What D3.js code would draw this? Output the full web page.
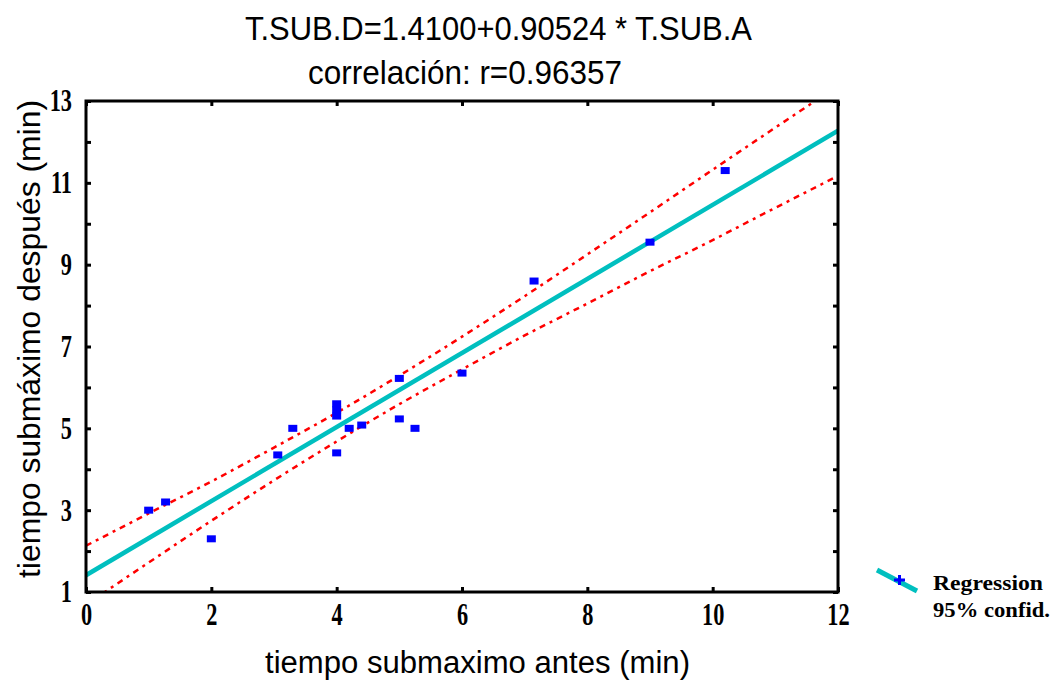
<!DOCTYPE html>
<html><head><meta charset="utf-8">
<script src="https://cdn.jsdelivr.net/npm/d3@7"></script>
<style>body{margin:0;background:#fff}</style>
</head><body>
<script>
// ---- data ----
const pointsX = [1, 1.27, 2, 3.06, 3.3, 4, 4, 4, 4, 4.2, 4.4, 5, 5.25, 5, 6, 7.15, 9, 10.2];
const pointsY = [3.0, 3.2, 2.3, 4.35, 5.0, 5.6, 5.45, 5.3, 4.4, 5.0, 5.08, 5.23, 5.0, 6.22, 6.35, 8.6, 9.55, 11.3];
const intercept = 1.41, slope = 0.90524;
const bandX = [0,1,2,3,4,5,6,7,8,9,10,11,12];
const upperBand = [2.13,2.92,3.70,4.53,5.38,6.29,7.24,8.23,9.25,10.28,11.32,12.35,13.37];
const lowerBand = [0.69,1.72,2.74,3.73,4.68,5.59,6.44,7.27,8.05,8.84,9.60,10.39,11.17];
const xTicks = [0,2,4,6,8,10,12];
const yTicks = [1,2,3,4,5,6,7,8,9,10,11,12,13];
const yLabels = [1,3,5,7,9,11,13];
const title1 = "T.SUB.D=1.4100+0.90524 * T.SUB.A";
const title2 = "correlación: r=0.96357";
const xTitle = "tiempo submaximo antes (min)";
const yTitle = "tiempo submáximo después (min)";
const legendLabels = ["Regression", "95% confid."];

const W = 1054, H = 684;
const svg = d3.select("body").append("svg").attr("width", W).attr("height", H);
const L = 86, R = 838, T = 101, B = 592;
const x = d3.scaleLinear().domain([0,12]).range([L,R]);
const y = d3.scaleLinear().domain([1,13]).range([B,T]);

const sans = "'Liberation Sans', Arial, sans-serif";
const serif = "'Liberation Serif', 'Times New Roman', serif";

// titles
svg.append("text").attr("x", 245).attr("y", 40).attr("textLength", 507).attr("lengthAdjust","spacingAndGlyphs")
  .style("font-family", sans).style("font-size","34px").text(title1);
svg.append("text").attr("x", 308).attr("y", 84).attr("textLength", 314).attr("lengthAdjust","spacingAndGlyphs")
  .style("font-family", sans).style("font-size","34px").text(title2);

// clip
svg.append("clipPath").attr("id","clip").append("rect").attr("x",L).attr("y",T).attr("width",R-L).attr("height",B-T);
const plot = svg.append("g").attr("clip-path","url(#clip)");

// confidence bands
const bandLine = d3.line().x((d,i)=>x(bandX[i])).y(d=>y(d)).curve(d3.curveMonotoneX);
[upperBand, lowerBand].forEach(b => {
  plot.append("path").attr("d", bandLine(b)).attr("fill","none").attr("stroke","#ff0000")
    .attr("stroke-width", 2.5).attr("stroke-dasharray","6,5,3,5");
});

// regression line
const regX = [0, 12];
plot.append("path").attr("d", d3.line().x(d=>x(d)).y(d=>y(intercept+slope*d))(regX))
  .attr("fill","none").attr("stroke","#00bfbf").attr("stroke-width",4.5);

// points
plot.selectAll("rect.pt").data(pointsX).enter().append("rect").attr("class","pt")
  .attr("x",(d)=>x(d)-4.5).attr("y",(d,i)=>y(pointsY[i])-3.5).attr("width",9).attr("height",7).attr("fill","#0000ff");

// frame
svg.append("rect").attr("x",L).attr("y",T).attr("width",R-L).attr("height",B-T)
  .attr("fill","none").attr("stroke","#000").attr("stroke-width",3);

// axes
const xb = svg.append("g").attr("transform",`translate(0,${B})`)
  .call(d3.axisBottom(x).tickValues(xTicks).tickSize(-5).tickPadding(11).tickFormat(d3.format("d")));
const xt = svg.append("g").attr("transform",`translate(0,${T})`)
  .call(d3.axisTop(x).tickValues(xTicks).tickSize(-5).tickFormat(""));
const yl = svg.append("g").attr("transform",`translate(${L},0)`)
  .call(d3.axisLeft(y).tickValues(yTicks).tickSize(-5).tickPadding(14)
  .tickFormat(d => yLabels.includes(d) ? d : ""));
const yr = svg.append("g").attr("transform",`translate(${R},0)`)
  .call(d3.axisRight(y).tickValues(yTicks).tickSize(-5).tickFormat(""));
[xb,xt,yl,yr].forEach(g => {
  g.select(".domain").remove();
  g.selectAll(".tick line").attr("stroke","#000").attr("stroke-width",3);
  g.selectAll("text").style("font-family", serif).style("font-size","31px").style("font-weight","bold").attr("fill","#000");
});
xb.selectAll("text").attr("dy","0.71em").attr("transform","scale(0.72,1)");
yl.selectAll("text").attr("x", -14/0.72).attr("transform","scale(0.72,1)");

// axis titles
svg.append("text").attr("x", 265).attr("y", 673).attr("textLength", 425).attr("lengthAdjust","spacingAndGlyphs")
  .style("font-family", sans).style("font-size","31px").text(xTitle);
svg.append("text").attr("transform","translate(40,578) rotate(-90)").attr("textLength", 478).attr("lengthAdjust","spacingAndGlyphs")
  .style("font-family", sans).style("font-size","31px").text(yTitle);

// legend
svg.append("line").attr("x1",877).attr("y1",570).attr("x2",917).attr("y2",591)
  .attr("stroke","#00bfbf").attr("stroke-width",5);
svg.append("path").attr("d","M894,580H905M899.5,575V585").attr("stroke","#0000ff").attr("stroke-width",3);
svg.append("text").attr("x",933).attr("y",590).attr("textLength",110).attr("lengthAdjust","spacingAndGlyphs")
  .style("font-family", serif).style("font-size","20px").style("font-weight","bold").text(legendLabels[0]);
svg.append("text").attr("x",933).attr("y",617).attr("textLength",117).attr("lengthAdjust","spacingAndGlyphs")
  .style("font-family", serif).style("font-size","20px").style("font-weight","bold").text(legendLabels[1]);
</script>
</body></html>
